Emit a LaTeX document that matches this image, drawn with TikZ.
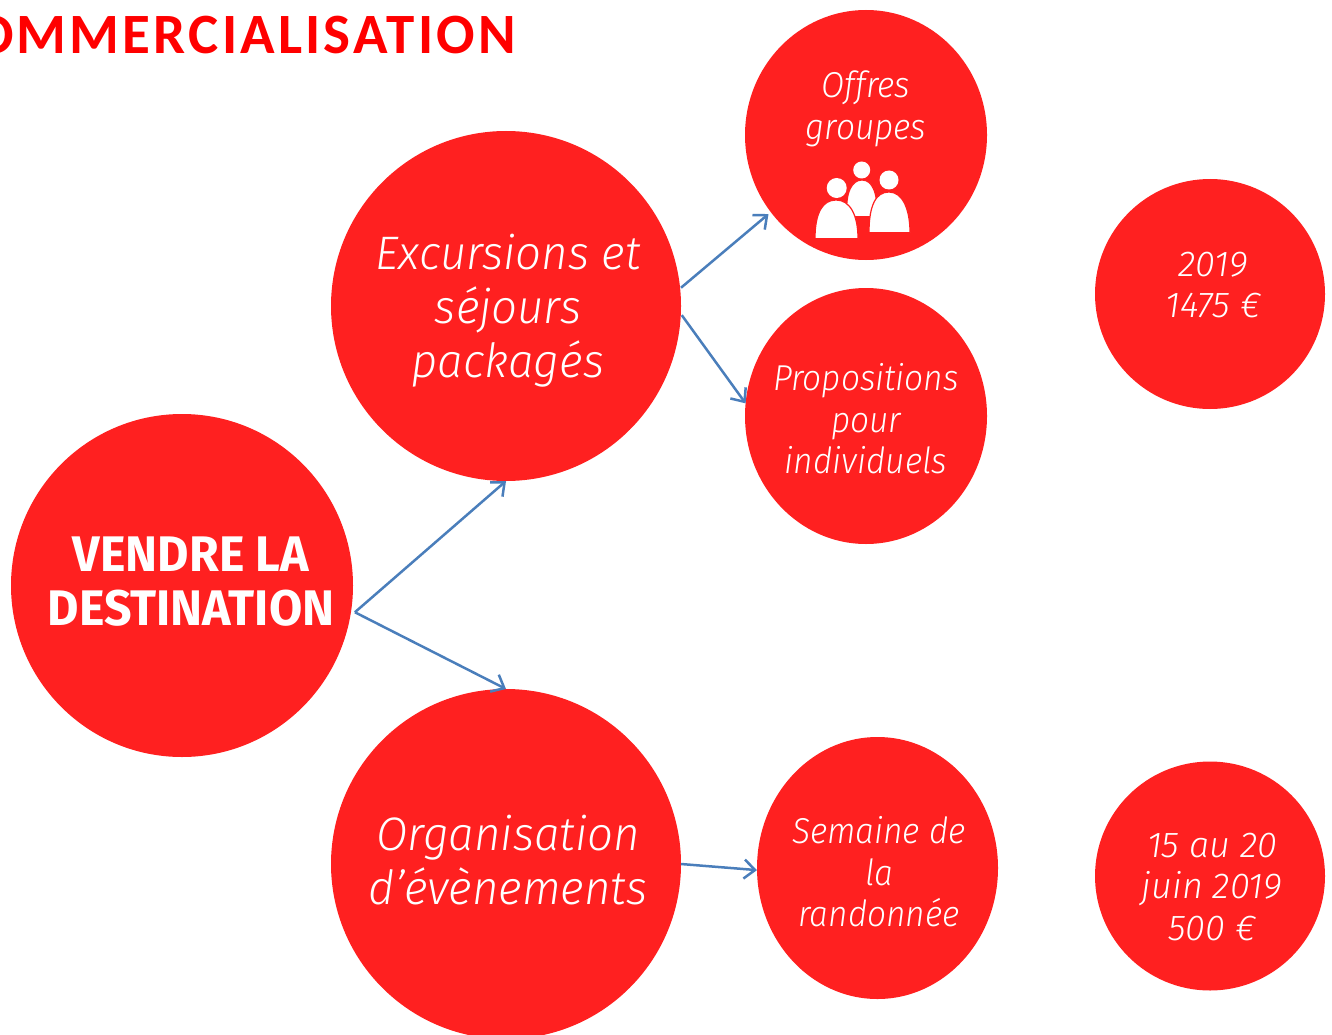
\documentclass[tikz,border=0pt]{standalone}
\usepackage{fontspec}
\usetikzlibrary{arrows.meta,shapes.geometric}
\setmainfont{Fira Sans}
\newfontfamily\titlefont[LetterSpace=5.6]{Carlito}
\newfontfamily\leadfont[FakeStretch=0.965]{Fira Sans}
\newfontfamily\bigfont[FakeStretch=0.97]{Fira Sans Light}
\newfontfamily\midfont[FakeStretch=0.93]{Fira Sans Light}
\newfontfamily\numfont{Fira Sans Light}
\definecolor{rouge}{HTML}{FF2020}
\definecolor{bleu}{HTML}{4A7EBB}
\tikzset{
  x=1pt,y=-1pt,
  disc/.style={ellipse,fill=rouge,draw=none,inner sep=0pt,outer sep=0pt},
  link/.style={draw=bleu,line width=2.5pt,-{Straight Barb[length=11pt,width=19pt,line width=2.5pt]}},
  big/.style={text=white,align=center,font=\bigfont\itshape\fontsize{47}{54}\selectfont,inner sep=0pt},
  mid/.style={text=white,align=center,font=\midfont\itshape\fontsize{36}{41.5}\selectfont,inner sep=0pt},
  num/.style={text=white,align=center,font=\numfont\itshape\fontsize{36}{41.5}\selectfont,inner sep=0pt},
  lead/.style={text=white,align=center,font=\leadfont\bfseries\fontsize{50}{54}\selectfont,inner sep=0pt},
  person/.style={fill=white,draw=rouge,line width=1.2pt},
}
\begin{document}
\begin{tikzpicture}
\useasboundingbox (0,0) rectangle (1332,1035);
\node[anchor=base east,inner sep=0pt,text=red,font=\titlefont\bfseries\fontsize{57}{60}\selectfont] (titre) at (516,54) {COMMERCIALISATION};
\node[disc,minimum width=342pt,minimum height=343pt] (A) at (182,585.5) {};
\node[disc,minimum width=350pt,minimum height=350pt] (B) at (506,306) {};
\node[disc,minimum width=350pt,minimum height=350pt] (C) at (506,864) {};
\node[disc,minimum width=242pt,minimum height=250pt] (D) at (866,135) {};
\node[disc,minimum width=242pt,minimum height=256pt] (E) at (866,416) {};
\node[disc,minimum width=241pt,minimum height=262pt] (F) at (877.5,868) {};
\node[disc,minimum width=230pt,minimum height=230pt] (G) at (1210,294) {};
\node[disc,minimum width=230pt,minimum height=229pt] (H) at (1210,876) {};
\node[lead] (ta) at (191,582) {VENDRE LA\\DESTINATION};
\node[big] (tb) at (508,311) {Excursions et\\séjours\\packagés};
\node[big] (tc) at (508,860) {Organisation\\d’évènements};
\node[mid] (td) at (866,109) {Offres\\groupes};
\node[mid] (te) at (866,419) {Propositions\\pour\\individuels};
\node[mid] (tf) at (879,872) {Semaine de\\la\\randonnée};
\node[num] (tg) at (1213,285) {2019\\1475 €};
\node[num] (th) at (1212,887) {15 au 20\\juin 2019\\500 €};
% people icon
\fill[person] (847,216.7) .. controls (845,192) and (852,180) .. (862,180) .. controls (872,180) and (878,192) .. (877,216.7) -- cycle;
\fill[person] (869,232.7) .. controls (869,205) and (876,192) .. (889,192) .. controls (903,192) and (910,210) .. (910,232.7) -- cycle;
\fill[person] (815,238.7) .. controls (815,212) and (823,200) .. (836,200) .. controls (850,200) and (858,215) .. (858,238.7) -- cycle;
\fill[white] (861.7,170) circle (8.5);
\fill[white] (889,180) circle (9.5);
\fill[white] (836.7,188) circle (10);
% connectors
\draw[link] ([xshift=4pt]A.-9) -- (B.south);
\draw[link] ([xshift=4pt]A.-9) -- (C.north);
\draw[link,shorten >=3pt] ([xshift=1pt]B.6) -- (D.219);
\draw[link] ([xshift=1pt]B.-3) -- (E.174);
\draw[link] (C.0) -- (F.181);
\end{tikzpicture}
\end{document}
